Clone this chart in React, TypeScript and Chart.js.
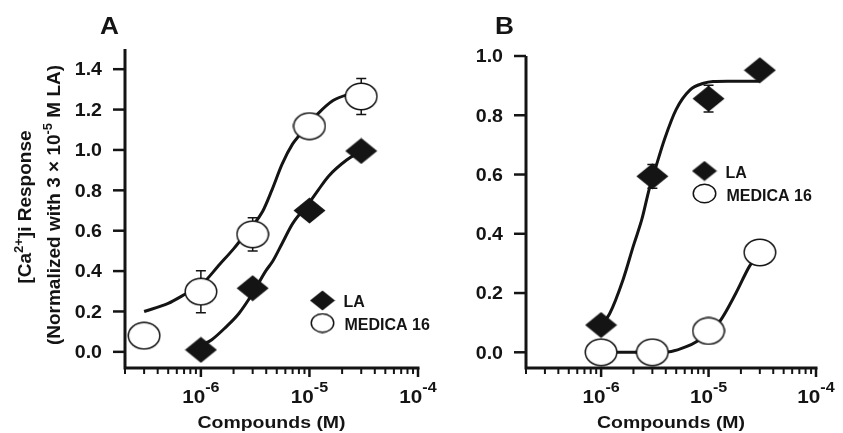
import React, { useEffect, useRef } from 'react';
import { Chart, registerables } from 'chart.js';

Chart.register(...registerables);

const FONT = '"Liberation Sans", Arial, Helvetica, sans-serif';
const INK = '#141414';

// ---- axes ----
const X_MIN = 2e-7;
const X_MAX = 1e-4;
const majorTicks = [1e-6, 1e-5, 1e-4];
const majorTickExp = ['-6', '-5', '-4'];
const minorMantissas = [2, 3, 4, 5, 6, 7, 8, 9];
const minorDecades = [1e-7, 1e-6, 1e-5];
const yTicksA = [0, 0.2, 0.4, 0.6, 0.8, 1.0, 1.2, 1.4];
const yTicksB = [0, 0.2, 0.4, 0.6, 0.8, 1.0];

// ---- panel A data ----
const concA_LA = [1e-6, 3e-6, 1e-5, 3e-5];
const respA_LA = [0.01, 0.315, 0.70, 0.995];
const concA_M16 = [3e-7, 1e-6, 3e-6, 1e-5, 3e-5];
const respA_M16 = [0.08, 0.298, 0.582, 1.118, 1.265];
const errA_M16 = [0, 0.104, 0.082, 0, 0.089];

const fitA_LA_x = [1e-6, 1.26e-6, 1.68e-6, 2.24e-6, 3e-6, 3.95e-6, 4.6e-6, 5.6e-6, 7e-6, 1e-5, 1.2e-5, 1.5e-5, 2.2e-5, 3e-5];
const fitA_LA_y = [0.03, 0.06, 0.12, 0.19, 0.29, 0.40, 0.45, 0.537, 0.635, 0.74, 0.80, 0.87, 0.95, 0.995];
const fitA_M16_x = [3e-7, 5e-7, 7.4e-7, 1e-6, 1.5e-6, 2e-6, 2.5e-6, 3e-6, 3.7e-6, 4.5e-6, 5.6e-6, 7e-6, 8e-6, 1e-5, 1.2e-5, 1.65e-5, 2.3e-5, 3e-5];
const fitA_M16_y = [0.20, 0.24, 0.29, 0.33, 0.435, 0.51, 0.575, 0.625, 0.695, 0.80, 0.93, 1.03, 1.07, 1.13, 1.18, 1.245, 1.275, 1.285];

// ---- panel B data ----
const concB_LA = [1e-6, 3e-6, 1e-5, 3e-5];
const respB_LA = [0.092, 0.594, 0.856, 0.952];
const errB_LA = [0, 0.04, 0.045, 0];
const concB_M16 = [1e-6, 3e-6, 1e-5, 3e-5];
const respB_M16 = [0.0, 0.0, 0.072, 0.337];

const fitB_LA_x = [1e-6, 1.2e-6, 1.6e-6, 2e-6, 2.4e-6, 2.8e-6, 3.2e-6, 3.9e-6, 5e-6, 6.7e-6, 9e-6, 1.1e-5, 1.5e-5, 2e-5, 3e-5];
const fitB_LA_y = [0.09, 0.13, 0.245, 0.36, 0.45, 0.55, 0.62, 0.72, 0.82, 0.885, 0.908, 0.914, 0.915, 0.915, 0.915];
const fitB_M16_x = [1e-6, 3e-6, 4.5e-6, 6.2e-6, 7.7e-6, 1e-5, 1.27e-5, 1.8e-5, 2.4e-5, 3e-5];
const fitB_M16_y = [0, 0, 0.003, 0.019, 0.036, 0.07, 0.104, 0.20, 0.29, 0.338];

const seriesNames = ['LA', 'MEDICA 16'];

type Seg = { t: string; size: number; dy?: number };

function drawRich(ctx: CanvasRenderingContext2D, segs: Seg[], x: number, y: number, align: string, sx = 1) {
  ctx.save();
  ctx.translate(x, y);
  ctx.scale(sx, 1);
  ctx.textBaseline = 'alphabetic';
  ctx.textAlign = 'left';
  ctx.fillStyle = INK;
  let w = 0;
  for (const s of segs) {
    ctx.font = `bold ${s.size}px ${FONT}`;
    w += ctx.measureText(s.t).width;
  }
  let cx = align === 'left' ? 0 : align === 'center' ? -w / 2 : -w;
  for (const s of segs) {
    ctx.font = `bold ${s.size}px ${FONT}`;
    ctx.fillText(s.t, cx, s.dy || 0);
    cx += ctx.measureText(s.t).width;
  }
  ctx.restore();
}

function makeEllipse(w: number, h: number, lw: number) {
  const c = document.createElement('canvas');
  c.width = w;
  c.height = h;
  const g = c.getContext('2d')!;
  g.beginPath();
  g.ellipse(w / 2, h / 2, w / 2 - lw / 2 - 0.5, h / 2 - lw / 2 - 0.5, 0, 0, Math.PI * 2);
  g.fillStyle = '#ffffff';
  g.fill();
  g.lineWidth = lw;
  g.strokeStyle = INK;
  g.stroke();
  return c;
}

function makeDiamond(w: number, h: number) {
  const c = document.createElement('canvas');
  c.width = w;
  c.height = h;
  const g = c.getContext('2d')!;
  g.beginPath();
  g.moveTo(w / 2, 0.5);
  g.lineTo(w - 0.5, h / 2);
  g.lineTo(w / 2, h - 0.5);
  g.lineTo(0.5, h / 2);
  g.closePath();
  g.fillStyle = INK;
  g.fill();
  return c;
}

type PanelCfg = {
  letter: string;
  letterX: number;
  yTicks: number[];
  yTitle: boolean;
  legendX: number;
  legendY: number;
  errors: { x: number; y: number; e: number }[];
  legendDiamond: HTMLCanvasElement;
  legendEllipse: HTMLCanvasElement;
};

function makePanelPlugin(cfg: PanelCfg) {
  return {
    id: 'panel' + cfg.letter,
    beforeDatasetsDraw(chart: any) {
      const ctx: CanvasRenderingContext2D = chart.ctx;
      const xs = chart.scales.x;
      const ys = chart.scales.y;
      ctx.save();
      ctx.strokeStyle = INK;
      ctx.lineWidth = 1.5;
      for (const eb of cfg.errors) {
        if (!eb.e) continue;
        const px = xs.getPixelForValue(eb.x);
        const top = ys.getPixelForValue(eb.y + eb.e);
        const bot = ys.getPixelForValue(eb.y - eb.e);
        ctx.beginPath();
        ctx.moveTo(px, top);
        ctx.lineTo(px, bot);
        ctx.moveTo(px - 5, top);
        ctx.lineTo(px + 5, top);
        ctx.moveTo(px - 5, bot);
        ctx.lineTo(px + 5, bot);
        ctx.stroke();
      }
      ctx.restore();
    },
    afterDatasetsDraw(chart: any) {
      const ctx: CanvasRenderingContext2D = chart.ctx;
      const xs = chart.scales.x;
      const ys = chart.scales.y;
      const area = chart.chartArea;
      ctx.save();
      ctx.strokeStyle = INK;
      ctx.lineCap = 'butt';
      // axis lines
      ctx.lineWidth = 3;
      ctx.beginPath();
      ctx.moveTo(area.left, area.top);
      ctx.lineTo(area.left, area.bottom + 1.5);
      ctx.moveTo(area.left - 1.5, area.bottom);
      ctx.lineTo(area.right + 1.5, area.bottom);
      ctx.stroke();
      // y ticks
      ctx.lineWidth = 2.5;
      for (const v of cfg.yTicks) {
        const py = ys.getPixelForValue(v);
        ctx.beginPath();
        ctx.moveTo(area.left - 12, py);
        ctx.lineTo(area.left, py);
        ctx.stroke();
        drawRich(ctx, [{ t: v.toFixed(1), size: 17.5 }], area.left - 23, py + 6.3, 'right', 1.12);
      }
      // x minor ticks
      ctx.lineWidth = 2;
      for (const d of minorDecades) {
        for (const m of minorMantissas) {
          const v = d * m;
          if (v < X_MIN || v > X_MAX) continue;
          const px = xs.getPixelForValue(v);
          ctx.beginPath();
          ctx.moveTo(px, area.bottom);
          ctx.lineTo(px, area.bottom + 6);
          ctx.stroke();
        }
      }
      // x major ticks + labels
      ctx.lineWidth = 2.5;
      majorTicks.forEach((v, i) => {
        const px = xs.getPixelForValue(v);
        ctx.beginPath();
        ctx.moveTo(px, area.bottom);
        ctx.lineTo(px, area.bottom + 9);
        ctx.stroke();
        drawRich(ctx, [
          { t: '10', size: 18 },
          { t: majorTickExp[i], size: 14, dy: -11 },
        ], px, area.bottom + 35, 'center', 1.15);
      });
      // x title
      drawRich(ctx, [{ t: 'Compounds (M)', size: 16.5 }], (area.left + area.right) / 2, 427.5, 'center', 1.18);
      // panel letter
      drawRich(ctx, [{ t: cfg.letter, size: 23 }], cfg.letterX, 34.3, 'left', 1.14);
      // y title
      if (cfg.yTitle) {
        ctx.save();
        ctx.translate(31, 207);
        ctx.rotate(-Math.PI / 2);
        drawRich(ctx, [
          { t: '[Ca', size: 19 },
          { t: '2+', size: 13, dy: -8 },
          { t: ']i Response', size: 19 },
        ], 0, 0, 'center');
        ctx.restore();
        ctx.save();
        ctx.translate(60, 205);
        ctx.rotate(-Math.PI / 2);
        drawRich(ctx, [
          { t: '(Normalized with 3 \u00d7 10', size: 19 },
          { t: '-5', size: 13, dy: -8 },
          { t: ' M LA)', size: 19 },
        ], 0, 0, 'center');
        ctx.restore();
      }
      // legend
      const d = cfg.legendDiamond;
      const e = cfg.legendEllipse;
      ctx.drawImage(d, cfg.legendX - d.width / 2, cfg.legendY - d.height / 2);
      ctx.drawImage(e, cfg.legendX - e.width / 2, cfg.legendY + 22.5 - e.height / 2);
      drawRich(ctx, [{ t: seriesNames[0], size: 16 }], cfg.legendX + 21, cfg.legendY + 6.5, 'left');
      drawRich(ctx, [{ t: seriesNames[1], size: 16 }], cfg.legendX + 22, cfg.legendY + 29.5, 'left');
      ctx.restore();
    },
  };
}

function pts(xs: number[], ys: number[]) {
  return xs.map((x, i) => ({ x, y: ys[i] }));
}

function buildChart(
  canvas: HTMLCanvasElement,
  pad: { left: number; right: number; top: number; bottom: number },
  yMin: number,
  yMax: number,
  datasets: any[],
  plugin: any,
) {
  return new Chart(canvas, {
    type: 'scatter',
    data: { datasets },
    options: {
      animation: false,
      responsive: false,
      maintainAspectRatio: false,
      events: [],
      layout: { padding: pad },
      scales: {
        x: { type: 'logarithmic', min: X_MIN, max: X_MAX, display: false },
        y: { type: 'linear', min: yMin, max: yMax, display: false },
      },
      plugins: { legend: { display: false }, tooltip: { enabled: false } },
    } as any,
    plugins: [plugin],
  });
}

export default function App() {
  const refA = useRef<HTMLCanvasElement>(null);
  const refB = useRef<HTMLCanvasElement>(null);

  useEffect(() => {
    const dataEllipse = makeEllipse(34, 29, 1.5);
    const dataDiamond = makeDiamond(33, 27);
    const legEllipse = makeEllipse(25, 21, 1.5);
    const legDiamond = makeDiamond(26, 21);

    const markerDs = (label: string, data: any[], img: HTMLCanvasElement) => ({
      label,
      data,
      showLine: false,
      pointStyle: img,
      pointRadius: 14,
      clip: false,
      order: 0,
    });
    const fitDs = (label: string, data: any[]) => ({
      label,
      data,
      showLine: true,
      borderColor: INK,
      borderWidth: 3,
      pointRadius: 0,
      cubicInterpolationMode: 'monotone',
      fill: false,
      clip: false,
      order: 1,
    });

    const chartA = buildChart(
      refA.current!,
      { left: 125, right: 27, top: 49, bottom: 65 },
      -0.08,
      1.5,
      [
        markerDs(seriesNames[0], pts(concA_LA, respA_LA), dataDiamond),
        markerDs(seriesNames[1], pts(concA_M16, respA_M16), dataEllipse),
        fitDs('LA fit', pts(fitA_LA_x, fitA_LA_y)),
        fitDs('MEDICA 16 fit', pts(fitA_M16_x, fitA_M16_y)),
      ],
      makePanelPlugin({
        letter: 'A',
        letterX: 100,
        yTicks: yTicksA,
        yTitle: true,
        legendX: 322.5,
        legendY: 300.5,
        errors: concA_M16.map((x, i) => ({ x, y: respA_M16[i], e: errA_M16[i] })),
        legendDiamond: legDiamond,
        legendEllipse: legEllipse,
      }),
    );

    const chartB = buildChart(
      refB.current!,
      { left: 105, right: 27, top: 56, bottom: 65 },
      -0.053,
      1.0,
      [
        markerDs(seriesNames[0], pts(concB_LA, respB_LA), dataDiamond),
        markerDs(seriesNames[1], pts(concB_M16, respB_M16), dataEllipse),
        fitDs('LA fit', pts(fitB_LA_x, fitB_LA_y)),
        fitDs('MEDICA 16 fit', pts(fitB_M16_x, fitB_M16_y)),
      ],
      makePanelPlugin({
        letter: 'B',
        letterX: 74,
        yTicks: yTicksB,
        yTitle: false,
        legendX: 283.5,
        legendY: 171,
        errors: concB_LA.map((x, i) => ({ x, y: respB_LA[i], e: errB_LA[i] })),
        legendDiamond: legDiamond,
        legendEllipse: legEllipse,
      }),
    );

    return () => {
      chartA.destroy();
      chartB.destroy();
    };
  }, []);

  return (
    <div style={{ position: 'absolute', left: 0, top: 0, width: 843, height: 433, background: '#fff', overflow: 'hidden' }}>
      <canvas ref={refB} width={422} height={433} style={{ position: 'absolute', left: 421, top: 0, width: 422, height: 433 }} />
      <canvas ref={refA} width={445} height={433} style={{ position: 'absolute', left: 0, top: 0, width: 445, height: 433 }} />
    </div>
  );
}
